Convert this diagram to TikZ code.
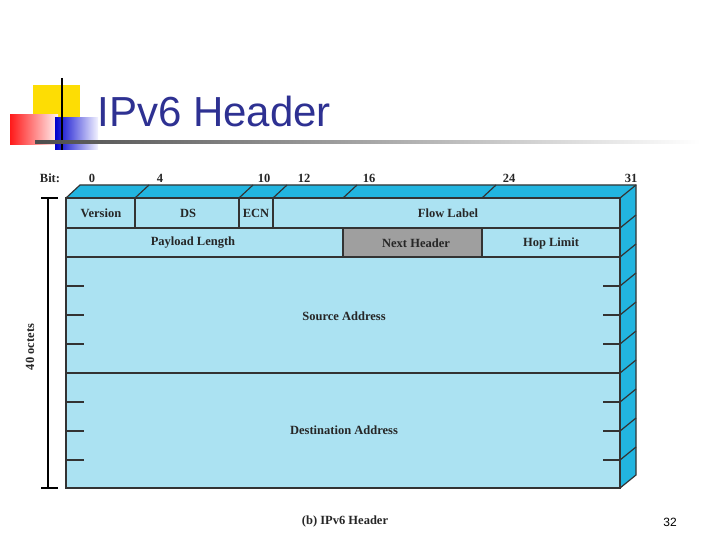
\documentclass[tikz,border=0pt]{standalone}
\usepackage{fontspec}
\setmainfont{Liberation Serif}
\newfontfamily\titlefont{Liberation Sans}
\begin{document}
\begin{tikzpicture}[x=1pt,y=-1pt,
  lbl/.style={font=\bfseries\fontsize{12.5}{14}\selectfont, text=black!85},
  edge/.style={draw=black!80, line width=1.2pt}]
\useasboundingbox (0,0) rectangle (720,540);
\definecolor{front}{HTML}{ABE2F2}
\definecolor{topc}{HTML}{22B5E0}
\definecolor{ttl}{HTML}{2E3192}
% logo
\fill[yellow!80!orange] (33,85) rectangle (80,120);
\shade[left color=red!90, right color=red!5] (10,115) rectangle (58,145);
\shade[left color=blue!80!black, right color=blue!5] (55,118) rectangle (98,150);
\draw[line width=1.5pt] (62,78) -- (62,150);
\shade[left color=black!70, right color=white] (35,141) rectangle (700,143.5);
\node[anchor=west, text=ttl, font=\titlefont\fontsize{42}{46}\selectfont] (title) at (94,111) {IPv6 Header};
% faces
\coordinate (FL) at (66,198); \coordinate (FR) at (620,198);
\coordinate (BL) at (80,185); \coordinate (BR) at (636,185);
\coordinate (FRb) at (620,488); \coordinate (BRb) at (636,475);
\fill[topc] (FL) -- (BL) -- (BR) -- (FR) -- cycle;
\fill[topc] (FR) -- (BR) -- (BRb) -- (FRb) -- cycle;
\fill[front] (66,198) rectangle (620,488);
\fill[gray!75] (343,228) rectangle (482,257);
\foreach \x in {135,239,273,343,482} \draw[edge] (\x,198) -- (\x+14,185);
\foreach \y in {228,257,286,315,344,373,402,431,460} \draw[edge] (620,\y) -- (636,\y-13);
\draw[edge] (FL) -- (BL) -- (BR) -- (BRb) -- (FRb);
\draw[edge] (FR) -- (BR);
\draw[edge] (66,198) rectangle (620,488);
\draw[edge] (66,228) -- (620,228); \draw[edge] (66,257) -- (620,257); \draw[edge] (66,373) -- (620,373);
\foreach \x in {135,239,273} \draw[edge] (\x,198) -- (\x,228);
\foreach \x in {343,482} \draw[edge] (\x,228) -- (\x,257);
\foreach \y in {286,315,344,402,431,460} {\draw[edge] (66,\y) -- (84,\y); \draw[edge] (603,\y) -- (620,\y);}
% labels
\node[lbl] (bit) at (50,178) {Bit:};
\foreach \x/\t in {92/0,160/4,264/10,304/12,369/16,509/24,631/31} \node[lbl] at (\x,178) {\t};
\node[lbl] (ver) at (101,213) {Version};
\node[lbl] (ds) at (188,213) {DS};
\node[lbl] (ecn) at (256,213) {ECN};
\node[lbl] (flow) at (448,213) {Flow Label};
\node[lbl] (pl) at (193,243) {Payload Length};
\node[lbl] (nh) at (416,243) {Next Header};
\node[lbl] (hl) at (551,243) {Hop Limit};
\node[lbl] (src) at (344,316) {Source Address};
\node[lbl] (dst) at (344,430) {Destination Address};
% bracket
\draw[line width=1.2pt] (48,198) -- (48,488) (41,198) -- (58,198) (41,488) -- (58,488);
\node[lbl, rotate=90] (oct) at (30,347) {40 octets};
\node[lbl] (cap) at (345,521) {(b) IPv6 Header};
\node[font=\titlefont\fontsize{12}{13}\selectfont] (pg) at (670,522) {32};
\end{tikzpicture}
\end{document}
